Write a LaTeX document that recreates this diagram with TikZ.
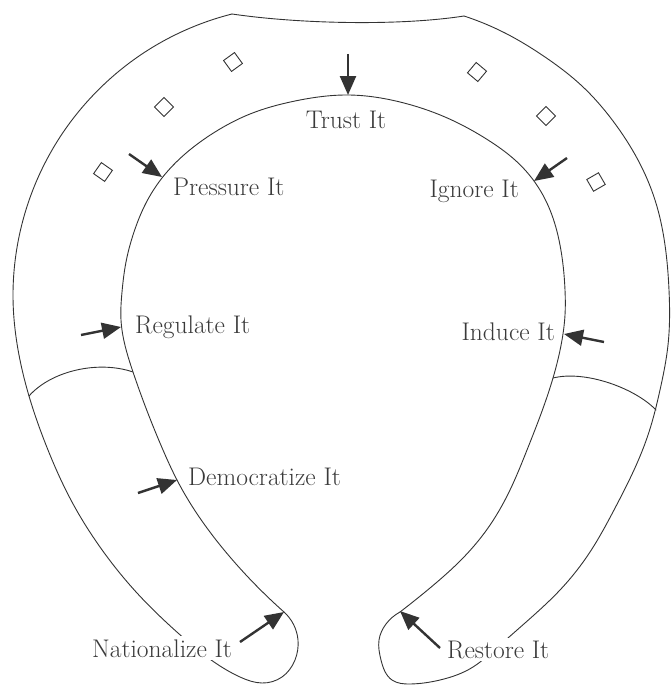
\documentclass[tikz,border=0pt]{standalone}
\usetikzlibrary{arrows.meta,hobby}
\definecolor{ink}{HTML}{333333}
\definecolor{txt}{HTML}{3A3A3A}
\begin{document}
\begin{tikzpicture}[x=1pt,y=-1pt,
  outline/.style={draw=ink,line width=0.9pt,line join=round,line cap=round,use Hobby shortcut},
  pusharrow/.style={draw=ink,line width=2.4pt,-{Triangle[length=19pt,width=16pt]}},
  chip/.style={draw=ink,line width=0.9pt,shape=rectangle,minimum size=13.5pt,inner sep=0pt},
  lbl/.style={text=txt,font=\fontsize{25.5}{30}\selectfont,inner sep=0pt},
  masked/.style={lbl,fill=white,inner sep=3pt},
]
\useasboundingbox (0,0) rectangle (670,685);

% ---- horseshoe outline ----
% top edge
\draw[outline] (232,14) .. controls (300,24) and (400,26) .. (464,16);
% outer left side, running into the left hook
\draw[outline] (232,14) .. (180.8,32.2) .. (136.9,57.5) .. (98.1,90.1)
  .. (65.5,128.9) .. (40.2,172.8) .. (22.9,220.4) .. (14.1,270.3) .. (13,296)
  .. (17.4,346) .. (29,396) .. (48,450) .. (72,502) .. (100,547)
  .. (137,593) .. (178,633) .. (214,662) .. (240,677) .. (262,683)
  .. (282,677) .. (295,660) .. (298,640) .. (284,612);
% inner edge, from the left hook over the top to the right hook
\draw[outline] (284,612) .. (230,557) .. (177,480) .. (163,450) .. (133,372)
  .. (121,320) .. (122,292) .. (126,262) .. (134,232) .. (146,203)
  .. (162,178) .. (185,154) .. (215,132) .. (250,114) .. (295,101)
  .. (348,95) .. (400,102) .. (445,117) .. (488,140) .. (515,160)
  .. (534,181) .. (550,210) .. (560,245) .. (565,290) .. (565,315)
  .. (562,340) .. (553,378) .. (527,450) .. (510,490) .. (488,528)
  .. (462,559) .. (430,588) .. (400,612);
% outer right side, running into the right hook
\draw[outline] (464,16) .. (505,33) .. (545,57) .. (582,86) .. (613,121)
  .. (638,160) .. (655,200) .. (665,245) .. (669,290) .. (668,345)
  .. (660,390) .. (649,432) .. (634,470) .. (614,510) .. (590,552)
  .. (560,590) .. (525,623) .. (492,652) .. (473,667) .. (440,680)
  .. (410,684) .. (392,680) .. (381,660) .. (379,640) .. (386,624)
  .. (400,612);

% cross bands
\draw[outline] (29,396) .. controls (51,371) and (98,360) .. (133,372);
\draw[outline] (553,378) .. controls (585,370) and (635,388) .. (656,410);

% ---- nail holes ----
\node[chip,rotate=36] (holeL1) at (233,62) {};
\node[chip,rotate=45] (holeL2) at (164,107) {};
\node[chip,rotate=55] (holeL3) at (103,172) {};
\node[chip,rotate=50] (holeR1) at (477,72) {};
\node[chip,rotate=45] (holeR2) at (546,116) {};
\node[chip,rotate=30] (holeR3) at (596,182) {};

% ---- labels ----
\node[lbl,anchor=base] (trust) at (346,128) {Trust It};
\node[lbl,anchor=base west] (pressure) at (173,195) {Pressure It};
\node[lbl,anchor=base east] (ignore) at (519,197) {Ignore It};
\node[lbl,anchor=base west] (regulate) at (135,333) {Regulate It};
\node[lbl,anchor=base east] (induce) at (555,340) {Induce It};
\node[lbl,anchor=base west] (democratize) at (188,485) {Democratize It};
\node[masked,anchor=base west] (nationalize) at (89,657) {Nationalize It};
\node[masked,anchor=base west] (restore) at (444,658) {Restore It};

% ---- pressure arrows ----
\coordinate (trustFrom) at (348,54);      \coordinate (trustTip) at (348,95);
\coordinate (pressureFrom) at (129,154);  \coordinate (pressureTip) at (162,177);
\coordinate (ignoreFrom) at (567,158);    \coordinate (ignoreTip) at (534,181);
\coordinate (regulateFrom) at (81,335);   \coordinate (regulateTip) at (121,327);
\coordinate (induceFrom) at (604,342);    \coordinate (induceTip) at (564,334);
\coordinate (democFrom) at (138,493);     \coordinate (democTip) at (177,480);
\coordinate (nationFrom) at (240,642);    \coordinate (nationTip) at (284,612);
\coordinate (restoreFrom) at (440,648);   \coordinate (restoreTip) at (400,611);

\draw[pusharrow] (trustFrom) -- (trustTip);
\draw[pusharrow] (pressureFrom) -- (pressureTip);
\draw[pusharrow] (ignoreFrom) -- (ignoreTip);
\draw[pusharrow] (regulateFrom) -- (regulateTip);
\draw[pusharrow] (induceFrom) -- (induceTip);
\draw[pusharrow] (democFrom) -- (democTip);
\draw[pusharrow] (nationFrom) -- (nationTip);
\draw[pusharrow] (restoreFrom) -- (restoreTip);
\end{tikzpicture}
\end{document}
